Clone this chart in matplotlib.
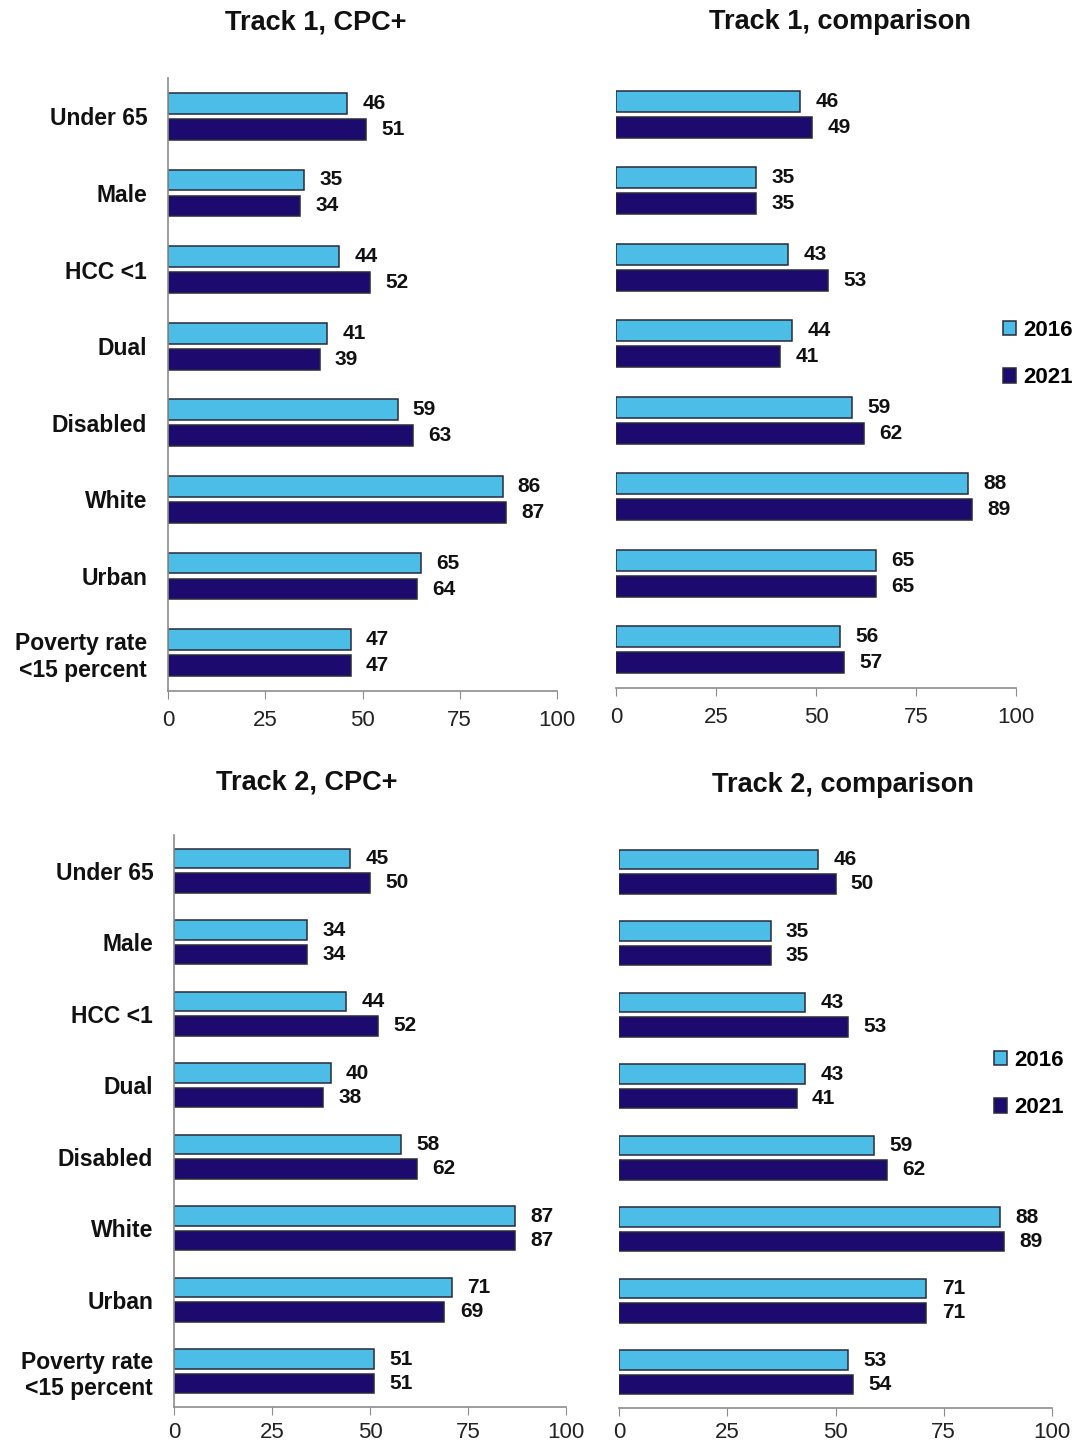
import matplotlib
matplotlib.use("Agg")
import matplotlib.pyplot as plt
import numpy as np

plt.rcParams["font.family"] = ["Liberation Sans", "DejaVu Sans"]

categories = ["Under 65", "Male", "HCC <1", "Dual", "Disabled", "White",
              "Urban", "Poverty rate\n<15 percent"]
years = ["2016", "2021"]

t1_cpc_2016 = [46, 35, 44, 41, 59, 86, 65, 47]
t1_cpc_2021 = [51, 34, 52, 39, 63, 87, 64, 47]
t1_cmp_2016 = [46, 35, 43, 44, 59, 88, 65, 56]
t1_cmp_2021 = [49, 35, 53, 41, 62, 89, 65, 57]
t2_cpc_2016 = [45, 34, 44, 40, 58, 87, 71, 51]
t2_cpc_2021 = [50, 34, 52, 38, 62, 87, 69, 51]
t2_cmp_2016 = [46, 35, 43, 43, 59, 88, 71, 53]
t2_cmp_2021 = [50, 35, 53, 41, 62, 89, 71, 54]

titles = ["Track 1, CPC+", "Track 1, comparison", "Track 2, CPC+", "Track 2, comparison"]

LIGHT = "#4bbde6"
DARK = "#1c0a6e"
EDGE = "#2a2a3a"
SPINE = "#8c8c8c"

W, H = 1075, 1445
fig = plt.figure(figsize=(W / 100, H / 100), dpi=100)


def px_axes(x0, x1, y_top, y_bot):
    return fig.add_axes([x0 / W, 1 - y_bot / H, (x1 - x0) / W, (y_bot - y_top) / H])


# (axes, 2016 values, 2021 values, show category labels, x tick pad)
panels = [
    (px_axes(168, 557, 78, 691), t1_cpc_2016, t1_cpc_2021, True, 8),
    (px_axes(616, 1016, 76, 688), t1_cmp_2016, t1_cmp_2021, False, 8),
    (px_axes(174, 566, 835, 1407), t2_cpc_2016, t2_cpc_2021, True, 5),
    (px_axes(619, 1052, 836, 1408), t2_cmp_2016, t2_cmp_2021, False, 4),
]

y = np.arange(len(categories))
bh = 0.27
off = 0.17

for ax, v16, v21, show_cats, xpad in panels:
    b1 = ax.barh(y - off, v16, height=bh, color=LIGHT, edgecolor=EDGE, lw=1.1)
    b2 = ax.barh(y + off, v21, height=bh, color=DARK, edgecolor=EDGE, lw=1.1)
    for bars, vals in ((b1, v16), (b2, v21)):
        for bar, v in zip(bars, vals):
            ax.annotate(f"{v}", (bar.get_width(), bar.get_y() + bar.get_height() / 2),
                        xytext=(11, 0), textcoords="offset points", va="center",
                        ha="left", fontsize=15, fontweight="bold", color="#111111")
    ax.set_xlim(0, 100)
    ax.set_ylim(len(categories) - 0.5, -0.5)
    ax.set_xticks([0, 25, 50, 75, 100])
    ax.tick_params(axis="x", direction="out", length=6, color=SPINE,
                   labelsize=16, labelcolor="#222222", pad=xpad)
    for s in ("top", "right"):
        ax.spines[s].set_visible(False)
    ax.spines["bottom"].set_color(SPINE)
    ax.spines["bottom"].set_linewidth(1.2)
    if show_cats:
        ax.spines["left"].set_color(SPINE)
        ax.spines["left"].set_linewidth(1.2)
        ax.set_yticks(y)
        ax.set_yticklabels(categories, fontsize=16.5, fontweight="bold", color="#111111")
        ax.tick_params(axis="y", length=0, pad=15)
    else:
        ax.spines["left"].set_visible(False)
        ax.set_yticks([])

title_pos = [(316, 22), (840, 22), (307, 783), (843, 785)]
for t, (tx, ty) in zip(titles, title_pos):
    fig.text(tx / W, 1 - ty / H, t, ha="center", va="center",
             fontsize=19.5, fontweight="bold", color="#111111")

for ax, (lx, ly) in ((panels[1][0], (1003, 354)), (panels[3][0], (994, 1084))):
    handles = ax.containers[:2]
    fig.legend(handles, years, loc="center left", bbox_to_anchor=(lx / W, 1 - ly / H),
               frameon=False, handlelength=0.6, handleheight=0.6, handletextpad=0.3,
               labelspacing=1.2, borderpad=0, borderaxespad=0,
               prop={"size": 16, "weight": "bold"})

fig.savefig("out.png", dpi=100)
